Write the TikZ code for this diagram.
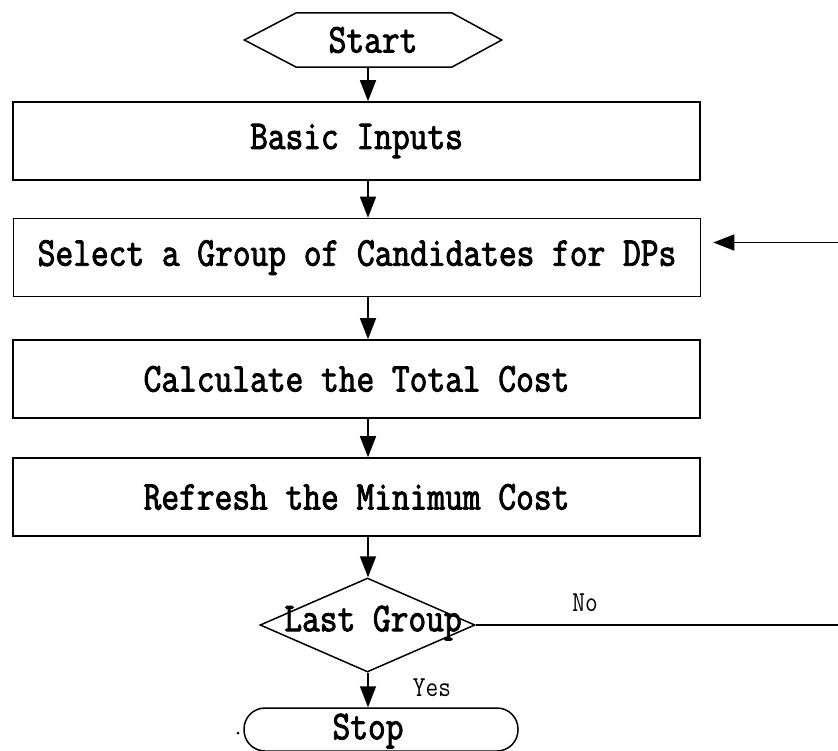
\documentclass[tikz,border=0pt]{standalone}
\usepackage{fontspec}
\usetikzlibrary{shapes.geometric,arrows.meta}
\newfontfamily\boxfont{Latin Modern Mono}[FakeStretch=0.84,FakeBold=2.2]
\newfontfamily\lblfont{Latin Modern Mono}[FakeStretch=0.85]
\begin{document}
\begin{tikzpicture}[x=1pt,y=-1pt,
  txt/.style={font=\boxfont\fontsize{41}{48}\selectfont,inner sep=0pt},
  box/.style={draw,line width=1.6pt,minimum width=687pt,minimum height=78pt,inner sep=0pt,txt},
  lbl/.style={font=\lblfont\fontsize{29}{34}\selectfont,inner sep=0pt},
  conn/.style={line width=1.6pt},
  arr/.style={conn,-{Triangle[length=21pt,width=16pt]}}]
\useasboundingbox (0,0) rectangle (838,750);
\clip (0,0) rectangle (838,750);
\coordinate (ax) at (368,0);
\coordinate (loopx) at (850,0);
% Start hexagon
\node[minimum width=257pt,minimum height=54pt,inner sep=0pt,txt] (start) at (373,40) {Start};
\draw[line width=1.5pt] (start.west) -- ([xshift=52pt]start.north west) -- ([xshift=-50pt]start.north east) -- (start.east) -- ([xshift=-50pt]start.south east) -- ([xshift=52pt]start.south west) -- cycle;
% boxes
\node[box] (basic) at (356.5,141) {Basic Inputs};
\node[box] (select) at (357,257.5) {Select a Group of Candidates for DPs};
\node[box] (calc) at (356.5,379) {Calculate the Total Cost};
\node[box] (refresh) at (356.5,497) {Refresh the Minimum Cost};
% decision
\node[diamond,draw,line width=1.5pt,minimum width=215pt,minimum height=94pt,inner sep=0pt] (dia) at (367.5,625) {};
\node[txt] (diatxt) at (373,623) {Last Group};
% stop
\node[draw,line width=1.5pt,rounded corners=21pt,minimum width=274pt,minimum height=43pt,inner sep=0pt] (stop) at (381,729.5) {};
\node[txt] (stoptxt) at (368,731) {Stop};
% arrows
\draw[arr] (start.south -| ax) -- (basic.north -| ax);
\draw[arr] (basic.south -| ax) -- (select.north -| ax);
\draw[arr] (select.south -| ax) -- (calc.north -| ax);
\draw[arr] (calc.south -| ax) -- (refresh.north -| ax);
\draw[arr] (refresh.south -| ax) -- (dia.north -| ax);
\draw[arr] (dia.south -| ax) -- (stop.north -| ax);
% loop back
\coordinate (tip) at ([xshift=12pt,yshift=15pt]select.east);
\draw[arr] (dia.east) -- (dia.east -| loopx) -- (loopx |- tip) -- (tip);
% labels
\node[lbl] (no) at (585,603) {No};
\node[lbl] (yes) at (432,688) {Yes};
\fill (238,733) circle (1.5pt);
\end{tikzpicture}
\end{document}
